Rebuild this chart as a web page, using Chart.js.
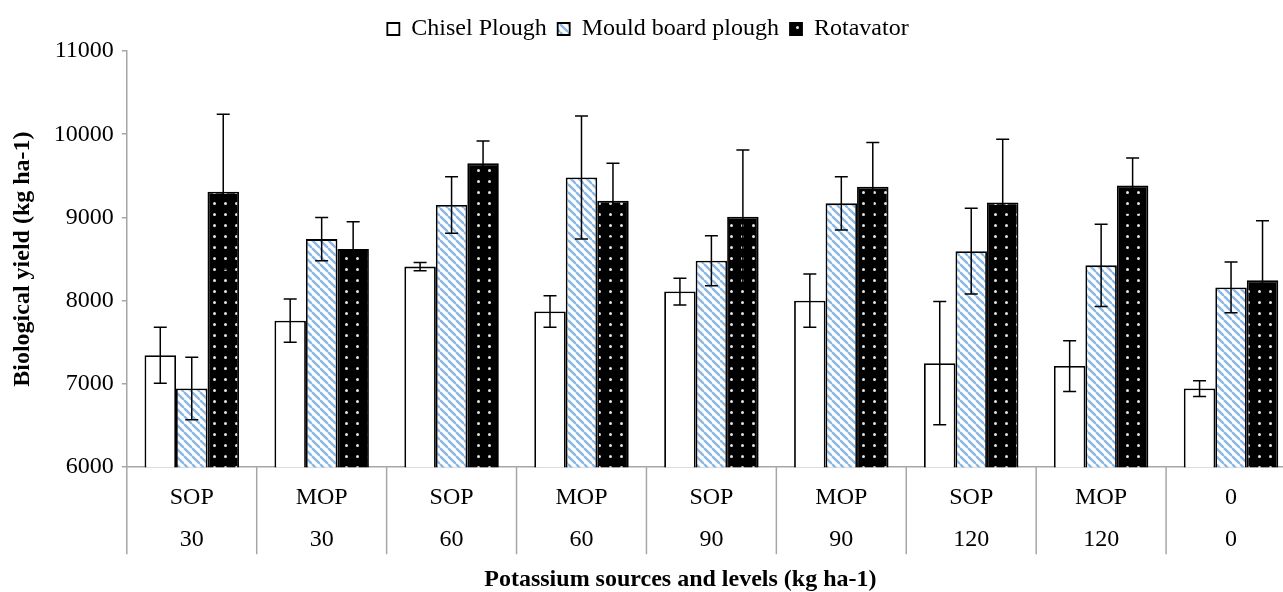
<!DOCTYPE html>
<html><head><meta charset="utf-8">
<script src="https://cdn.jsdelivr.net/npm/chart.js@4.4.0/dist/chart.umd.min.js"></script>
<style>
html,body{margin:0;padding:0;overflow:hidden;background:#fff;width:1283px;height:592px}
#wrap{position:absolute;left:0;top:0;width:1300px;height:592px}
</style>
</head><body><div id="wrap"><canvas id="c"></canvas></div>
<script>
// ---- data ----
const sources = ['SOP','MOP','SOP','MOP','SOP','MOP','SOP','MOP','0'];
const levels = ['30','30','60','60','90','90','120','120','0'];
const seriesNames = ['Chisel Plough','Mould board plough','Rotavator'];
const chisel    = [7345, 7760, 8410, 7870, 8110, 8000, 7250, 7215, 6945];
const chiselErr = [335, 260, 50, 190, 160, 320, 740, 305, 95];
const mould     = [6945, 8740, 9150, 9480, 8480, 9170, 8595, 8425, 8160];
const mouldErr  = [375, 260, 340, 740, 300, 320, 515, 495, 305];
const rot       = [9310, 8620, 9650, 9200, 9010, 9370, 9180, 9385, 8245];
const rotErr    = [930, 330, 270, 450, 800, 530, 760, 330, 715];
const yMin = 6000, yMax = 11000, yStep = 1000;
const yTitle = 'Biological yield (kg ha-1)';
const xTitle = 'Potassium sources and levels (kg ha-1)';

// ---- style constants ----
const FONT = "'Liberation Serif','Times New Roman',serif";
const AXIS_GREY = '#a6a6a6';
const SEP_LEN = 87;       // category separator length below the axis
const X_TITLE_SHIFT = -31;

// ---- patterns ----
function stripePattern(){
  const c = document.createElement('canvas'); c.width = 8; c.height = 8;
  const g = c.getContext('2d');
  g.fillStyle = '#ffffff'; g.fillRect(0,0,8,8);
  g.strokeStyle = '#8ab8e6'; g.lineWidth = 2.4;
  for (const k of [-8,0,8]) { g.beginPath(); g.moveTo(k,0); g.lineTo(k+8,8); g.stroke(); }
  return g.createPattern(c,'repeat');
}
function dotPattern(){
  const c = document.createElement('canvas'); c.width = 11; c.height = 11;
  const g = c.getContext('2d');
  g.fillStyle = '#000000'; g.fillRect(0,0,11,11);
  g.fillStyle = '#e4e4e4';
  g.beginPath(); g.arc(5.5,5.5,1.5,0,Math.PI*2); g.fill();
  return g.createPattern(c,'repeat');
}

const labels = sources.map((s,i)=>[s, levels[i]]);
const errs = [chiselErr, mouldErr, rotErr];

const errorBars = {
  id:'errorBars',
  afterDatasetsDraw(chart){
    const ctx = chart.ctx, ys = chart.scales.y;
    ctx.save();
    ctx.strokeStyle = '#000'; ctx.lineWidth = 1.5;
    chart.data.datasets.forEach((ds,i)=>{
      const meta = chart.getDatasetMeta(i);
      meta.data.forEach((el,j)=>{
        const v = ds.data[j], e = errs[i][j];
        const x = el.x, yt = ys.getPixelForValue(v+e), yb = ys.getPixelForValue(v-e);
        const w = 6.5;
        ctx.beginPath();
        ctx.moveTo(x,yt); ctx.lineTo(x,yb);
        ctx.moveTo(x-w,yt); ctx.lineTo(x+w,yt);
        ctx.moveTo(x-w,yb); ctx.lineTo(x+w,yb);
        ctx.stroke();
      });
    });
    ctx.restore();
  }
};

const separators = {
  id:'separators',
  afterDraw(chart){
    const xs = chart.scales.x, ctx = chart.ctx;
    const n = xs.ticks.length;
    const y0 = chart.chartArea.bottom, y1 = y0 + SEP_LEN;
    ctx.save();
    ctx.strokeStyle = AXIS_GREY; ctx.lineWidth = 1.5;
    for (let i = 0; i <= n; i++) {
      let x;
      if (i === 0) x = xs.left;
      else if (i === n) x = xs.right;
      else x = (xs.getPixelForValue(i-1) + xs.getPixelForValue(i)) / 2;
      ctx.beginPath(); ctx.moveTo(x, y0); ctx.lineTo(x, y1); ctx.stroke();
    }
    ctx.restore();
  }
};

const shiftXTitle = {
  id:'shiftXTitle',
  afterLayout(chart){
    const s = chart.scales.x;
    if (!s || s.__shifted) return;
    const orig = s.drawTitle;
    s.drawTitle = function(){
      const c = this.ctx; c.save(); c.translate(X_TITLE_SHIFT, 0);
      orig.apply(this, arguments); c.restore();
    };
    s.__shifted = true;
  }
};

new Chart(document.getElementById('c'), {
  type:'bar',
  data:{
    labels,
    datasets:[
      {label:seriesNames[0], data:chisel, backgroundColor:'#ffffff', borderColor:'#000', borderWidth:1.8},
      {label:seriesNames[1], data:mould, backgroundColor:stripePattern(), borderColor:'#000', borderWidth:1.8},
      {label:seriesNames[2], data:rot, backgroundColor:dotPattern(), borderColor:'#000', borderWidth:1.8}
    ]
  },
  options:{
    responsive:true, maintainAspectRatio:false, animation:false,
    categoryPercentage:0.727, barPercentage:1.0,
    layout:{padding:{left:0,right:4,top:6,bottom:0}},
    plugins:{
      legend:{position:'top', labels:{font:{family:FONT,size:24}, color:'#000', boxWidth:12, boxHeight:12, padding:11}},
      tooltip:{enabled:false}
    },
    scales:{
      x:{
        grid:{display:true, drawTicks:false, drawOnChartArea:false},
        border:{display:true, color:AXIS_GREY, width:1.5},
        ticks:{font:{family:FONT,size:24,lineHeight:1.75}, color:'#000', padding:10, maxRotation:0, autoSkip:false},
        title:{display:true, text:xTitle, font:{family:FONT,size:24,weight:'bold'}, color:'#000', padding:{top:-6,bottom:-2}}
      },
      y:{
        min:yMin, max:yMax,
        grid:{display:true, drawOnChartArea:false, tickLength:5, color:AXIS_GREY, lineWidth:1.5},
        border:{display:true, color:AXIS_GREY, width:1.5},
        ticks:{stepSize:yStep, font:{family:FONT,size:24}, color:'#000', padding:8, callback:(v)=>String(v)},
        title:{display:true, text:yTitle, font:{family:FONT,size:24,weight:'bold'}, color:'#000', padding:{top:8,bottom:9}}
      }
    }
  },
  plugins:[errorBars, separators, shiftXTitle]
});
</script>
</body></html>
